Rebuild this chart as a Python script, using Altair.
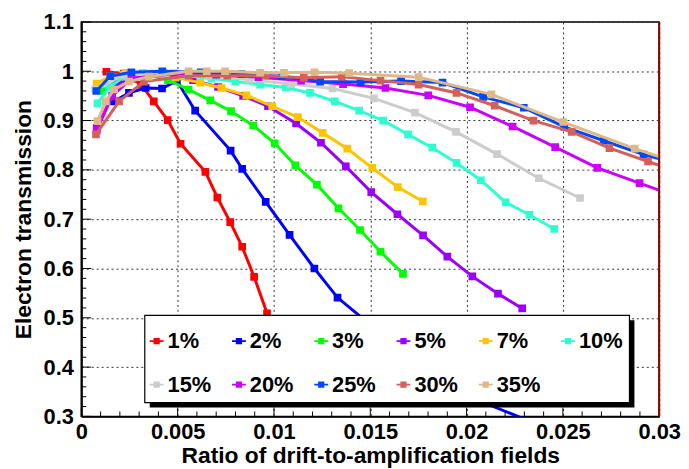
import altair as alt
import pandas as pd

# ---------------- data ----------------
series_labels = ["1%", "2%", "3%", "5%", "7%", "10%", "15%", "20%", "25%", "30%", "35%"]
series_colors = ["#ff0000", "#0000ff", "#00ff00", "#9900ff", "#ffc400", "#2effd0",
                 "#cccccc", "#cc00ff", "#0048ff", "#d4605a", "#deb887"]

x_1 = [0.0013, 0.0022, 0.0031, 0.00376, 0.00448, 0.00515, 0.00644, 0.00706, 0.00773, 0.00835, 0.00897, 0.00964]
y_1 = [0.999, 0.995, 0.973, 0.939, 0.901, 0.853, 0.796, 0.744, 0.694, 0.644, 0.583, 0.509]

x_2 = [0.0017, 0.00247, 0.00334, 0.00419, 0.00496, 0.00591, 0.00775, 0.00835, 0.00957, 0.01081, 0.0121, 0.0133,
       0.0158, 0.0178, 0.0198, 0.024]
y_2 = [0.939, 0.956, 0.966, 0.965, 0.981, 0.920, 0.839, 0.802, 0.735, 0.668, 0.600, 0.541,
       0.46, 0.405, 0.345, 0.279]

x_3 = [0.0011, 0.0022, 0.0034, 0.0045, 0.00557, 0.00669, 0.00777, 0.00892, 0.01004, 0.01111, 0.01223, 0.01335,
       0.01447, 0.01553, 0.0167]
y_3 = [0.96, 0.99, 0.994, 0.982, 0.963, 0.941, 0.919, 0.890, 0.854, 0.809, 0.770, 0.722, 0.678, 0.634, 0.589]

x_5 = [0.0008, 0.0019, 0.0032, 0.0045, 0.0058, 0.0071, 0.0084, 0.00969, 0.01115, 0.01244, 0.01373, 0.01505,
       0.01641, 0.01774, 0.019, 0.0203, 0.02163, 0.02289]
y_5 = [0.885, 0.975, 0.995, 0.993, 0.982, 0.968, 0.95, 0.929, 0.894, 0.855, 0.807, 0.755, 0.710, 0.667,
       0.624, 0.584, 0.549, 0.519]

x_7 = [0.0008, 0.0015, 0.0023, 0.0036, 0.0049, 0.00617, 0.00728, 0.00857, 0.00991, 0.01124, 0.01253, 0.01381,
       0.0151, 0.01643, 0.01773]
y_7 = [0.975, 0.99, 0.997, 0.995, 0.987, 0.977, 0.966, 0.951, 0.929, 0.907, 0.875, 0.843, 0.804, 0.765, 0.736]

x_10 = [0.00084, 0.00144, 0.00222, 0.00325, 0.00428, 0.00546, 0.00675, 0.00799, 0.00928, 0.01062, 0.01187,
        0.01316, 0.01442, 0.01567, 0.01696, 0.01822, 0.01948, 0.02074, 0.02203, 0.02326, 0.02455]
y_10 = [0.935, 0.967, 0.989, 0.995, 0.995, 0.991, 0.985, 0.979, 0.973, 0.967, 0.956, 0.939, 0.920, 0.900,
        0.872, 0.845, 0.814, 0.779, 0.734, 0.709, 0.680]

x_15 = [0.00072, 0.00222, 0.00428, 0.0066, 0.00871, 0.01089, 0.01304, 0.01519, 0.01732, 0.01945, 0.02158,
        0.02375, 0.02589]
y_15 = [0.963, 0.993, 0.997, 0.991, 0.983, 0.974, 0.965, 0.945, 0.916, 0.877, 0.832, 0.783, 0.743]

x_20 = [0.0008, 0.0016, 0.0026, 0.0048, 0.007, 0.0092, 0.01141, 0.01359, 0.01579, 0.01801, 0.02018, 0.02239,
        0.0246, 0.02679, 0.02898, 0.03119]
y_20 = [0.88, 0.95, 0.985, 0.995, 0.993, 0.988, 0.981, 0.974, 0.966, 0.951, 0.927, 0.888, 0.846, 0.804,
        0.773, 0.742]

x_25 = [0.00078, 0.0015, 0.0026, 0.0042, 0.0062, 0.0083, 0.0104, 0.0124, 0.0145, 0.0166, 0.01875, 0.02086,
        0.02297, 0.02507, 0.02713, 0.02919, 0.03131]
y_25 = [0.96, 0.99, 0.998, 1.0, 0.998, 0.994, 0.99, 0.979, 0.978, 0.98, 0.977, 0.948, 0.926, 0.887, 0.859,
        0.831, 0.809]

x_30 = [0.00076, 0.00196, 0.00325, 0.00557, 0.00758, 0.00956, 0.01155, 0.01352, 0.01553, 0.01751, 0.01948,
        0.02146, 0.02347, 0.02546, 0.02742, 0.02942, 0.0314]
y_30 = [0.872, 0.939, 0.979, 0.991, 0.991, 0.991, 0.987, 0.989, 0.981, 0.973, 0.956, 0.930, 0.900, 0.877,
        0.844, 0.817, 0.790]

x_35 = [0.00084, 0.00127, 0.0017, 0.00247, 0.0035, 0.00557, 0.00651, 0.00746, 0.00928, 0.01052, 0.01211,
        0.0139, 0.01751, 0.02129, 0.02502, 0.02873, 0.03242]
y_35 = [0.899, 0.939, 0.963, 0.979, 0.989, 1.0, 1.0, 1.0, 0.997, 0.997, 0.998, 0.996, 0.988, 0.953, 0.897,
        0.843, 0.796]

series_x = [x_1, x_2, x_3, x_5, x_7, x_10, x_15, x_20, x_25, x_30, x_35]
series_y = [y_1, y_2, y_3, y_5, y_7, y_10, y_15, y_20, y_25, y_30, y_35]

x_major = [0, 0.005, 0.01, 0.015, 0.02, 0.025, 0.03]
y_major = [0.3, 0.4, 0.5, 0.6, 0.7, 0.8, 0.9, 1.0, 1.1]
x_minor = [round(i * 0.001, 4) for i in range(1, 30) if i % 5 != 0]
y_minor = [round(0.3 + i * 0.02, 3) for i in range(1, 40) if i % 5 != 0]

# ---------------- chart ----------------
W, H = 583, 398
FONT = "Liberation Sans"

xscale = alt.Scale(domain=[0, 0.03], nice=False, zero=False)
yscale = alt.Scale(domain=[0.3, 1.1], nice=False, zero=False)
cscale = alt.Scale(domain=series_labels, range=series_colors)

x_axis = alt.Axis(values=x_major, format="~g", title="Ratio of drift-to-amplification fields",
                  ticks=False, labelPadding=5, grid=True, gridDash=[2, 3], gridColor="#333333",
                  gridWidth=1, labelFontSize=22, labelFont=FONT, labelFontWeight="bold",
                  labelColor="black", titleFontSize=23, titleFont=FONT, titleFontWeight="bold",
                  titleColor="black", titlePadding=3, domainColor="black", domainWidth=1.5,
                  labelFlush=False, labelOverlap=False)
y_axis = alt.Axis(values=y_major, format="~g", title="Electron transmission",
                  ticks=False, labelPadding=8, grid=True, gridDash=[2, 3], gridColor="#333333",
                  gridWidth=1, labelFontSize=22, labelFont=FONT, labelFontWeight="bold",
                  labelColor="black", titleFontSize=23, titleFont=FONT, titleFontWeight="bold",
                  titleColor="black", titlePadding=8, domainColor="black", domainWidth=2,
                  labelFlush=False, labelOverlap=False)

legend = alt.Legend(
    orient="none", legendX=65, legendY=311, direction="horizontal", columns=6, title=None,
    labelFont=FONT, labelFontSize=22, labelFontWeight="bold", labelColor="black",
    labelOffset=0, columnPadding=16, rowPadding=22, gridAlign="all", padding=0,
    symbolType="M-1,-0.13H1V0.13H-1Z M-0.45,-0.45H0.45V0.45H-0.45Z",
    symbolSize=196, symbolStrokeWidth=0, symbolOpacity=1,
)

X = alt.X("ratio:Q", scale=xscale, axis=x_axis)
Y = alt.Y("trans:Q", scale=yscale, axis=y_axis)
C = alt.Color("series:N", scale=cscale, legend=legend)

layers = []
for lab, xs, ys in zip(series_labels, series_x, series_y):
    d = pd.DataFrame({"ratio": xs, "trans": ys, "series": [lab] * len(xs)})
    base = alt.Chart(d)
    line = base.mark_line(strokeWidth=3, clip=True).encode(x=X, y=Y, color=C)
    pts = base.mark_point(shape="square", filled=True, size=60, opacity=1, clip=True).encode(
        x=X, y=Y, color=C)
    layers += [line, pts]

# inward axis ticks (ROOT style)
def xticks(vals, length):
    return alt.Chart(pd.DataFrame({"ratio": vals})).mark_rule(color="black", strokeWidth=1).encode(
        x=X, y=alt.value(H), y2=alt.value(H - length))

def yticks(vals, length):
    return alt.Chart(pd.DataFrame({"trans": vals})).mark_rule(color="black", strokeWidth=1).encode(
        y=Y, x=alt.value(0), x2=alt.value(length))

tick_layers = [xticks(x_major, 9), xticks(x_minor, 5), yticks(y_major, 10), yticks(y_minor, 5)]

one = alt.Data(values=[{}])
shadow = alt.Chart(one).mark_rect(color="black").encode(
    x=alt.value(69), x2=alt.value(558), y=alt.value(301), y2=alt.value(389))
box = alt.Chart(one).mark_rect(fill="white", stroke="black", strokeWidth=1.2).encode(
    x=alt.value(64), x2=alt.value(553), y=alt.value(296), y2=alt.value(384))
right_edge = alt.Chart(one).mark_rule(color="#8b0000", strokeWidth=2).encode(
    x=alt.value(W), y=alt.value(0), y2=alt.value(H))

chart = alt.layer(*layers, *tick_layers, shadow, box, right_edge).properties(
    width=W, height=H,
    autosize=alt.AutoSizeParams(type="none"),
    padding={"left": 74, "top": 12, "right": 22, "bottom": 51},
    background="white",
).configure_view(stroke="black", strokeWidth=1.5)

chart.save("out.html", embed_options={"renderer": "svg", "actions": False})
